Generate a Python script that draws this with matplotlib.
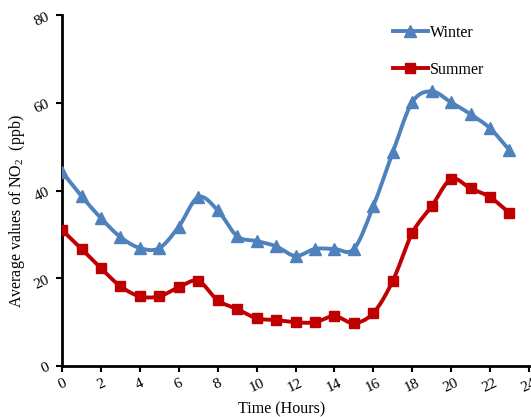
import numpy as np
import matplotlib
matplotlib.use("Agg")
import matplotlib.pyplot as plt

plt.rcParams['font.family'] = ['Liberation Serif', 'DejaVu Serif']
plt.rcParams['mathtext.fontset'] = 'custom'
plt.rcParams['mathtext.rm'] = 'Liberation Serif'

hours = list(range(24))
winter = [44.2, 38.7, 33.7, 29.4, 26.9, 26.9, 31.8, 38.5, 35.5, 29.6, 28.5, 27.3,
          25.1, 26.7, 26.7, 26.7, 36.4, 48.7, 60.1, 62.6, 60.1, 57.4, 54.2, 49.2]
summer = [31.0, 26.7, 22.3, 18.2, 15.9, 15.9, 18.0, 19.4, 15.0, 13.0, 10.9, 10.5,
          10.0, 10.0, 11.4, 9.8, 12.1, 19.4, 30.3, 36.4, 42.6, 40.5, 38.5, 34.9]
xticks = list(range(0, 25, 2))
yticks = [0, 20, 40, 60, 80]


def smooth(x, y, n=20):
    # Catmull-Rom style smoothing through the data points (like Excel "smoothed line")
    x = np.asarray(x, float); y = np.asarray(y, float)
    px = np.concatenate([[2 * x[0] - x[1]], x, [2 * x[-1] - x[-2]]])
    py = np.concatenate([[2 * y[0] - y[1]], y, [2 * y[-1] - y[-2]]])
    xs, ys = [], []
    t = np.linspace(0, 1, n, endpoint=False)
    tens = 0.5
    for i in range(1, len(px) - 2):
        p0, p1, p2, p3 = (np.array([px[j], py[j]]) for j in (i - 1, i, i + 1, i + 2))
        m1 = tens * (p2 - p0)
        m2 = tens * (p3 - p1)
        h00 = 2 * t**3 - 3 * t**2 + 1
        h10 = t**3 - 2 * t**2 + t
        h01 = -2 * t**3 + 3 * t**2
        h11 = t**3 - t**2
        pts = np.outer(h00, p1) + np.outer(h10, m1) + np.outer(h01, p2) + np.outer(h11, m2)
        xs.extend(pts[:, 0]); ys.extend(pts[:, 1])
    xs.append(x[-1]); ys.append(y[-1])
    return np.array(xs), np.array(ys)


fig = plt.figure(figsize=(5.31, 4.17), dpi=100)
ax = fig.add_axes([0.117, 0.122, 0.879, 0.842])

wc = '#4F81BD'
sc = '#C00000'

sx, sy = smooth(hours, winter)
ax.plot(sx, sy, color=wc, lw=2.8, solid_capstyle='round', zorder=2)
ax.plot(hours, winter, ls='none', marker='^', ms=8.5, color=wc, zorder=3)
ax.plot([], [], color=wc, lw=2.8, marker='^', ms=8.5, label='Winter')

sx, sy = smooth(hours, summer)
ax.plot(sx, sy, color=sc, lw=2.8, solid_capstyle='round', zorder=2)
ax.plot(hours, summer, ls='none', marker='s', ms=7.5, color=sc, zorder=3)
ax.plot([], [], color=sc, lw=2.8, marker='s', ms=7.5, label='Summer')

ax.set_xlim(0, 24)
ax.set_ylim(0, 80)
ax.set_xticks(xticks)
ax.set_yticks(yticks)
ax.tick_params(direction='out', length=4, width=1.5, labelsize=11, colors='black')
for lbl in ax.get_xticklabels():
    lbl.set_rotation(25)
for lbl in ax.get_yticklabels():
    lbl.set_rotation(25)

for s in ['top', 'right']:
    ax.spines[s].set_visible(False)
for s in ['left', 'bottom']:
    ax.spines[s].set_linewidth(2)

ax.set_xlabel('Time (Hours)', fontsize=11.5)
ax.set_ylabel(r'Average values of NO$_{\mathregular{2}}$  (ppb)', fontsize=11.5)
ax.xaxis.set_label_coords(0.471, -0.1)
ax.yaxis.set_label_coords(-0.075, 0.44)

leg = ax.legend(loc='upper left', bbox_to_anchor=(0.695, 0.99), frameon=False,
                fontsize=11.5, handlelength=2.2, handletextpad=0.1, labelspacing=1.3,
                borderaxespad=0)

fig.savefig('out.png', dpi=100)
